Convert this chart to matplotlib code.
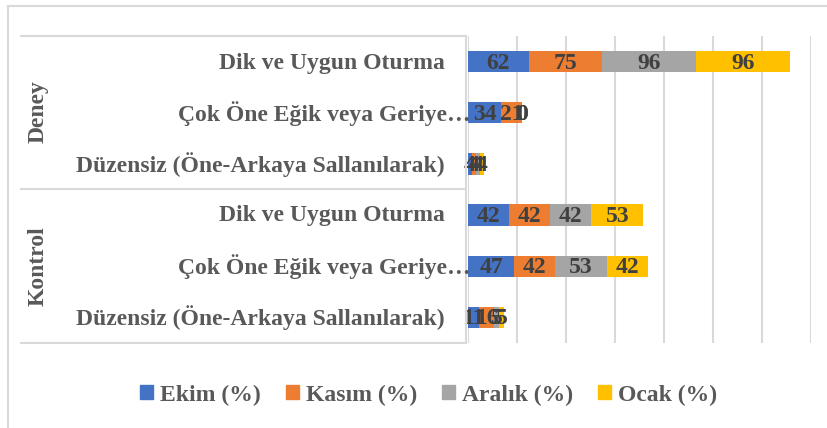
import matplotlib.pyplot as plt
import numpy as np
from matplotlib.lines import Line2D
from matplotlib.patches import Patch

# veriler
gruplar = ["Deney", "Kontrol"]
kategoriler = ["Dik ve Uygun Oturma",
               "Çok Öne Eğik veya Geriye…",
               "Düzensiz (Öne-Arkaya Sallanılarak)"]
aylar = ["Ekim (%)", "Kasım (%)", "Aralık (%)", "Ocak (%)"]
ekim = [62, 34, 4, 42, 47, 11]
kasim = [75, 21, 4, 42, 42, 16]
aralik = [96, 0, 4, 42, 53, 5]
ocak = [96, 0, 4, 53, 42, 5]
renkler = ["#4472C4", "#ED7D31", "#A5A5A5", "#FFC000"]

W, H = 827, 428
fig = plt.figure(figsize=(W / 100, H / 100), dpi=100)
L, R, T, B = 468, 811, 36, 343
ax = fig.add_axes([L / W, 1 - B / H, (R - L) / W, (B - T) / H])

font = dict(family="Liberation Serif", weight="bold")
fs = 17
seriler = [ekim, kasim, aralik, ocak]
y = np.arange(6)
sol = np.zeros(6)
for vals, renk, ad in zip(seriler, renkler, aylar):
    vals = np.array(vals, dtype=float)
    ax.barh(y, vals, left=sol, height=0.42, color=renk, label=ad, zorder=3)
    for yi, (s, v) in enumerate(zip(sol, vals)):
        ax.text(s + v / 2, yi + 0.03, f"{int(v)}", ha="center", va="center",
                fontsize=fs, color="#404040", zorder=4, clip_on=False, **font)
    sol += vals

ax.set_xlim(0, 350)
ax.set_ylim(5.5, -0.5)
ax.set_xticks(np.arange(0, 351, 50))
ax.grid(axis="x", color="#d9d9d9", linewidth=1.5, zorder=0)
ax.tick_params(left=False, bottom=False, labelleft=False, labelbottom=False)
for s in ax.spines.values():
    s.set_visible(False)

# kategori etiketleri
for i in range(6):
    lbl = kategoriler[i % 3]
    xr = 470 if "…" in lbl else 445
    fig.text(xr / W, 1 - (63 + i * 51) / H, lbl, ha="right", va="center",
             fontsize=fs, color="#595959", **font)

for g, yc in zip(gruplar, [112, 266]):
    fig.text(38 / W, 1 - yc / H, g, rotation=90, ha="center", va="center",
             fontsize=fs, color="#595959", **font)

# kutu cizgileri
gri = "#d9d9d9"
def cizgi(x0, y0, x1, y1, lw=1.5):
    fig.add_artist(Line2D([x0 / W, x1 / W], [1 - y0 / H, 1 - y1 / H],
                          color=gri, linewidth=lw, transform=fig.transFigure))
for yy in [36, 189, 343]:
    cizgi(21, yy, 466, yy)
cizgi(466, 36, 466, 343)
# grafik cercevesi
cizgi(8, 6, 827, 6)
cizgi(8, 6, 8, 428)

handles = [Patch(color=c) for c in renkler]
leg = fig.legend(handles, aylar, loc="center", bbox_to_anchor=(0.518, 1 - 395 / H),
                 ncol=4, frameon=False, handlelength=0.55, handleheight=0.55,
                 handletextpad=0.3, columnspacing=1.05,
                 prop=dict(family="Liberation Serif", weight="bold", size=fs))
for t in leg.get_texts():
    t.set_color("#595959")

plt.savefig("out.png", dpi=100)
